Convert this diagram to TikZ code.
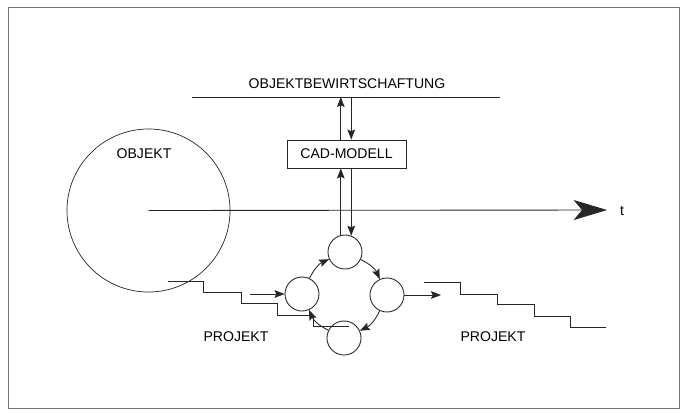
\documentclass[tikz,border=0pt]{standalone}
\usepackage{fontspec}
\setmainfont{Liberation Sans}
\usetikzlibrary{arrows.meta}

\begin{document}
\begin{tikzpicture}[x=0.03cm,y=0.03cm,line width=0.75pt,draw=black!85,
  ring/.style={draw,circle,minimum size=1.02cm},
  arr/.style={-{Stealth[length=3mm,width=2.3mm,inset=0.5mm]}},
  bigarr/.style={-{Stealth[length=10mm,width=6mm,inset=2.5mm]}},
  lbl/.style={font=\fontsize{12}{14}\selectfont}]
\tikzstyle{every node}+=[inner sep=0pt]
\useasboundingbox (0,0) rectangle (683,-412);
\draw [black!55,line width=0.5pt] (8,-7) rectangle (679,-408);
\node [ring] (T) at (345,-252) {};
\node [ring] (L) at (302,-294) {};
\node [ring] (R) at (387,-295) {};
\node [ring] (B) at (344,-338) {};
\node [draw,circle,minimum size=4.89cm,line width=0.6pt] (obj) at (148.5,-210.5) {};
\node [lbl] (objlbl) at (144,-154) {OBJEKT};
\node [draw,lbl,minimum width=3.57cm,minimum height=0.84cm] (cad) at (346.5,-154) {CAD-MODELL};
\node [lbl] (bw) at (347,-84) {OBJEKTBEWIRTSCHAFTUNG};
\node [lbl] (t) at (622,-211) {t};
\node [lbl] (pl) at (236,-337) {PROJEKT};
\node [lbl] (pr) at (493,-337) {PROJEKT};
\coordinate (bwl) at (192,-97);
\coordinate (bwr) at (500,-97);
\coordinate (tend) at (607,-210);
\coordinate (pin) at (250,-294);
\coordinate (pout) at (441,-295);
\draw (bwl) -- (bwr);
\draw [bigarr] (obj.center) -- (tend);
\draw [arr] (cad.north -| T.104) -- (bwl -| T.104);
\draw [arr] (bwl -| T.69) -- (cad.north -| T.69);
\draw [arr] (T.104) -- (cad.south -| T.104);
\draw [arr] (cad.south -| T.69) -- (T.69);
\draw [arr] (pin) -- (L);
\draw [arr] (R) -- (pout);
\draw [arr] (L) to [bend left=20] (T);
\draw [arr] (T) to [bend left=20] (R);
\draw [arr] (R) to [bend left=20] (B);
\draw [arr] (B) to [bend left=20] (L);
\draw (168,-281) -| (203,-292) -| (241,-303) -| (277,-315) -| (313,-326) -- (349,-326);
\draw (424,-282) -| (460,-294) -| (497,-304) -| (534,-316) -| (570,-327) -- (606,-327);
\end{tikzpicture}
\end{document}
